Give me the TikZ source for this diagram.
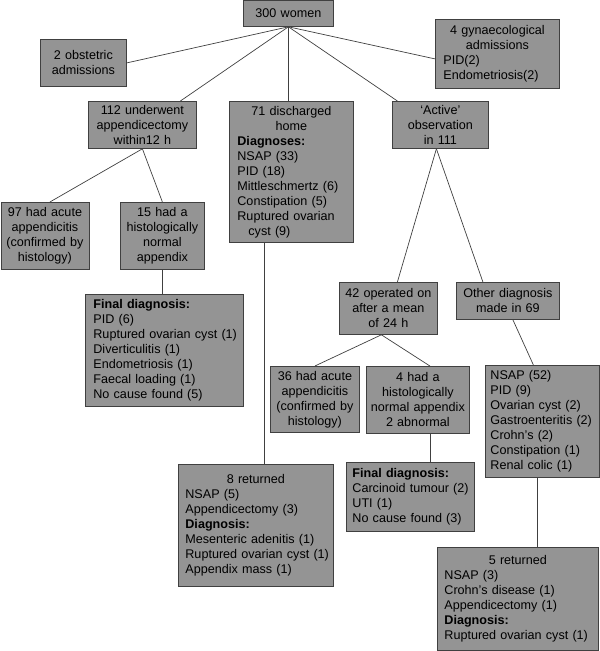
\documentclass[tikz,border=0pt]{standalone}
\usepackage{fontspec}
\setmainfont{Liberation Sans}

% a centred heading line inside a left-aligned box
\newcommand{\centred}[1]{{\centering #1\par}}

\begin{document}
\begin{tikzpicture}[
    x=1pt, y=-1pt,
    box/.style={draw=black!75, fill=black!42, line width=0.8pt, anchor=north west,
                inner xsep=0pt, inner ysep=0pt, align=center,
                font=\fontsize{12.6}{15}\selectfont},
    listbox/.style={box, align=left, execute at begin node={\leftskip=#1\relax}},
    listbox/.default=7pt,
    link/.style={draw=black!75, line width=0.7pt}
  ]
  \useasboundingbox (0,0) rectangle (600,651);

  % Top level
  \node[box, text width=90pt, minimum height=26pt] (women) at (243,0) {300 women};
  \node[box, text width=86pt, minimum height=47pt] (obst) at (40,39) {2 obstetric\\admissions};
  \node[listbox=8pt, text width=124pt, minimum height=69pt] (gyn) at (435,19)
    {\centred{4 gynaecological\\admissions}PID(2)\\Endometriosis(2)};

  % Second level
  \node[box, text width=108pt, minimum height=47pt] (cut12) at (88,101)
    {112 underwent\\appendicectomy\\within12 h};
  \node[listbox=8pt, text width=124pt, minimum height=141pt] (home) at (229,101)
    {\centred{71 discharged\\home}\textbf{Diagnoses:}\\NSAP (33)\\PID (18)\\
     Mittleschmertz (6)\\Constipation (5)\\Ruptured ovarian\\\hspace*{11pt}cyst (9)};
  \node[box, text width=96pt, minimum height=47pt] (active) at (392,101)
    {‘Active’\\observation\\in 111};

  % Early appendicectomy
  \node[box, text width=88pt, minimum height=67pt] (acute97) at (0.5,202)
    {97 had acute\\appendicitis\\(confirmed by\\histology)};
  \node[box, text width=84pt, minimum height=67pt] (normal15) at (120,202)
    {15 had a\\histologically\\normal\\appendix};
  \node[listbox=8pt, text width=158pt, minimum height=112pt] (final15) at (85,294)
    {\textbf{Final diagnosis:}\\PID (6)\\Ruptured ovarian cyst (1)\\Diverticulitis (1)\\
     Endometriosis (1)\\Faecal loading (1)\\No cause found (5)};

  % Active observation
  \node[box, text width=98pt, minimum height=52pt] (late42) at (339,282)
    {42 operated on\\after a mean\\of 24 h};
  \node[box, text width=103pt, minimum height=37pt] (other) at (456,282)
    {Other diagnosis\\made in 69};
  \node[box, text width=89pt, minimum height=66pt] (acute36) at (270,366)
    {36 had acute\\appendicitis\\(confirmed by\\histology)};
  \node[box, text width=103pt, minimum height=67pt] (normal4) at (366,366)
    {4 had a\\histologically\\normal appendix\\2 abnormal};
  \node[listbox=5pt, text width=114pt, minimum height=112pt] (other69) at (485,365)
    {NSAP (52)\\PID (9)\\Ovarian cyst (2)\\Gastroenteritis (2)\\Crohn’s (2)\\
     Constipation (1)\\Renal colic (1)};

  % Returns and final diagnoses
  \node[listbox, text width=155pt, minimum height=122pt] (back8) at (178,464)
    {\centred{8 returned}NSAP (5)\\Appendicectomy (3)\\\textbf{Diagnosis:}\\
     Mesenteric adenitis (1)\\Ruptured ovarian cyst (1)\\Appendix mass (1)};
  \node[listbox=6pt, text width=128pt, minimum height=69pt] (final4) at (346,462)
    {\textbf{Final diagnosis:}\\Carcinoid tumour (2)\\UTI (1)\\No cause found (3)};
  \node[listbox, text width=161pt, minimum height=103pt] (back5) at (437,547)
    {\centred{5 returned}NSAP (3)\\Crohn’s disease (1)\\Appendicectomy (1)\\
     \textbf{Diagnosis:}\\Ruptured ovarian cyst (1)};

  % Connectors
  \draw[link] (women.south) -- (obst.east);
  \draw[link] (women.south) -- ([xshift=38pt]cut12.north);
  \draw[link] (women.south) -- (women.south |- home.north);
  \draw[link] (women.south) -- ([xshift=-43pt]active.north);
  \draw[link] (women.south) -- ([yshift=-5pt]gyn.west);
  \draw[link] (cut12.south) -- ([xshift=5pt]acute97.north);
  \draw[link] (cut12.south) -- (normal15.north);
  \draw[link] (normal15.south) -- (normal15.south |- final15.north);
  \draw[link] ([xshift=-27pt]home.south) -- ([xshift=-27pt]home.south |- back8.north);
  \draw[link] ([xshift=-4pt]active.south) -- ([xshift=9pt]late42.north);
  \draw[link] ([xshift=-4pt]active.south) -- ([xshift=-25pt]other.north);
  \draw[link] ([xshift=-7pt]late42.south) -- (acute36.north);
  \draw[link] ([xshift=-7pt]late42.south) -- ([xshift=12pt]normal4.north);
  \draw[link] ([xshift=12pt]normal4.south) -- ([xshift=12pt]normal4.south |- final4.north);
  \draw[link] ([xshift=5pt]other.south) -- ([xshift=-9pt]other69.north);
  \draw[link] ([xshift=-5pt]other69.south) -- ([xshift=-5pt]other69.south |- back5.north);
\end{tikzpicture}
\end{document}
